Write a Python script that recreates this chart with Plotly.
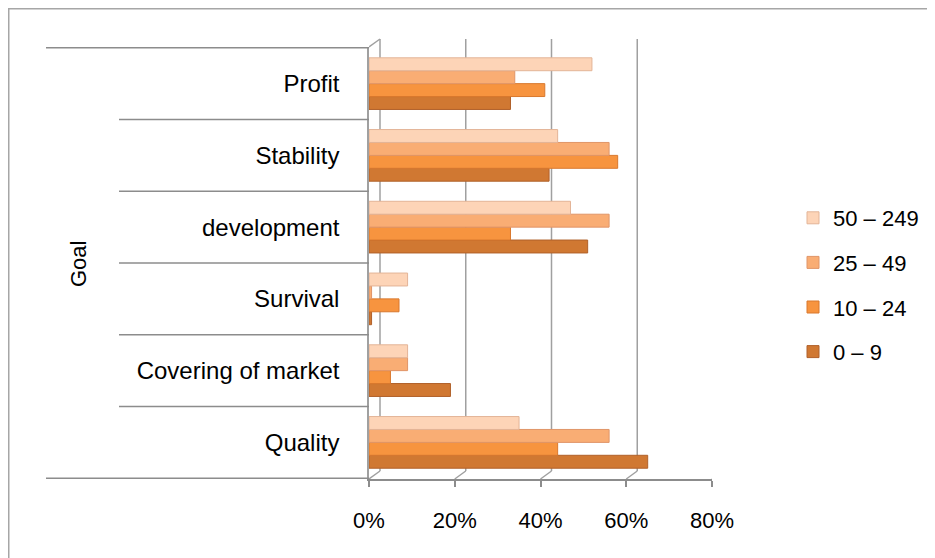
import plotly.graph_objects as go

# ---------------- data ----------------
goals = ["Quality", "Covering of market", "Survival", "development", "Stability", "Profit"]
size_0_9 = [65, 19, 0.6, 51, 42, 33]
size_10_24 = [44, 5, 7, 33, 58, 41]
size_25_49 = [56, 9, 0.6, 56, 56, 34]
size_50_249 = [35, 9, 9, 47, 44, 52]
series_names = ["0 – 9", "10 – 24", "25 – 49", "50 – 249"]
x_tick_vals = [0, 20, 40, 60, 80]
x_tick_text = ["0%", "20%", "40%", "60%", "80%"]
axis_title = "Goal"

# ---------------- style ----------------
W, H = 935, 558
OFF = 8  # page body margin: screen px = figure px + 8
L, R, T, B = 369 - OFF, 712 - OFF, 47 - OFF, 479 - OFF  # plot area in figure px
fill_colors = ["#D07832", "#F7943F", "#F9AD74", "#FDD4B7"]
edge_colors = ["#B0612A", "#D9782E", "#E09568", "#E3B497"]
FONT = "Liberation Sans"
GRAY = "#8C8C8C"


def px_x(p):  # p given in screen px
    return (p - OFF - L) / (R - L)


def px_y(p):
    return (B - (p - OFF)) / (B - T)


fig = go.Figure()
for k, (name, vals, fc, ec) in enumerate(zip(series_names,
                                             [size_0_9, size_10_24, size_25_49, size_50_249],
                                             fill_colors, edge_colors)):
    fig.add_trace(go.Bar(
        y=goals, x=vals, name=name, orientation="h",
        marker=dict(color=fc, line=dict(color=ec, width=1)),
        legendgroup=name, legendrank=100 - k,
    ))

shapes = []
# outer chart border
shapes.append(dict(type="rect", xref="paper", yref="paper",
                   x0=px_x(OFF + 0.75), x1=px_x(W + 40), y0=px_y(H + 40), y1=px_y(OFF + 0.75),
                   line=dict(color="#A6A6A6", width=1.5), fillcolor="rgba(0,0,0,0)", layer="below"))
# category divider lines (multi-level axis look)
n = len(goals)
for i in range(n + 1):
    yb = i - 0.5
    start = 46 if i in (0, n) else 119
    shapes.append(dict(type="line", xref="paper", yref="y",
                       x0=px_x(start), x1=0, y0=yb, y1=yb,
                       line=dict(color=GRAY, width=1.5)))
# back-wall gridlines with a 3-D offset
DX, DY = 11, 8
for v in x_tick_vals:
    shapes.append(dict(type="line", xref="x", yref="paper",
                       xsizemode="pixel", xanchor=v, x0=DX, x1=DX,
                       ysizemode="pixel", yanchor=0, y0=DY, y1=(B - T) + DY,
                       line=dict(color="#A0A0A0", width=1.5), layer="below"))
    shapes.append(dict(type="line", xref="x", yref="paper",
                       xsizemode="pixel", xanchor=v, x0=0, x1=DX,
                       ysizemode="pixel", yanchor=0, y0=0, y1=DY,
                       line=dict(color="#A0A0A0", width=1.5), layer="below"))
# top-left depth edge
shapes.append(dict(type="line", xref="x", yref="paper",
                   xsizemode="pixel", xanchor=0, x0=0, x1=DX,
                   ysizemode="pixel", yanchor=1, y0=0, y1=DY,
                   line=dict(color="#A0A0A0", width=1.5)))

fig.update_layout(
    width=W, height=H, autosize=False,
    margin=dict(l=L, r=W - R, t=T, b=H - B, pad=0),
    paper_bgcolor="white", plot_bgcolor="white",
    font=dict(family=FONT, size=22, color="#000000"),
    barmode="group", bargap=0.28, bargroupgap=0,
    showlegend=True,
    legend=dict(x=px_x(793), y=px_y(285), xanchor="left", yanchor="middle",
                traceorder="grouped", tracegroupgap=13,
                font=dict(family=FONT, size=22), bgcolor="rgba(0,0,0,0)"),
    xaxis=dict(range=[0, 80], tickvals=x_tick_vals, ticktext=x_tick_text,
               showgrid=False, zeroline=False, showline=True, linecolor=GRAY, linewidth=1.5,
               ticks="outside", ticklen=6, tickcolor=GRAY, tickwidth=1.5,
               ticklabelstandoff=15, fixedrange=True),
    yaxis=dict(categoryorder="array", categoryarray=goals, showgrid=False, zeroline=False,
               showline=True, linecolor="#A0A0A0", linewidth=1.5, ticks="",
               ticklabelstandoff=23, tickfont=dict(family=FONT, size=24),
               fixedrange=True),
    shapes=shapes,
    annotations=[dict(text=axis_title, xref="paper", yref="paper",
                      x=px_x(78), y=px_y(264), xanchor="center", yanchor="middle",
                      textangle=-90, showarrow=False,
                      font=dict(family=FONT, size=22))],
)

fig.write_html("out.html")
